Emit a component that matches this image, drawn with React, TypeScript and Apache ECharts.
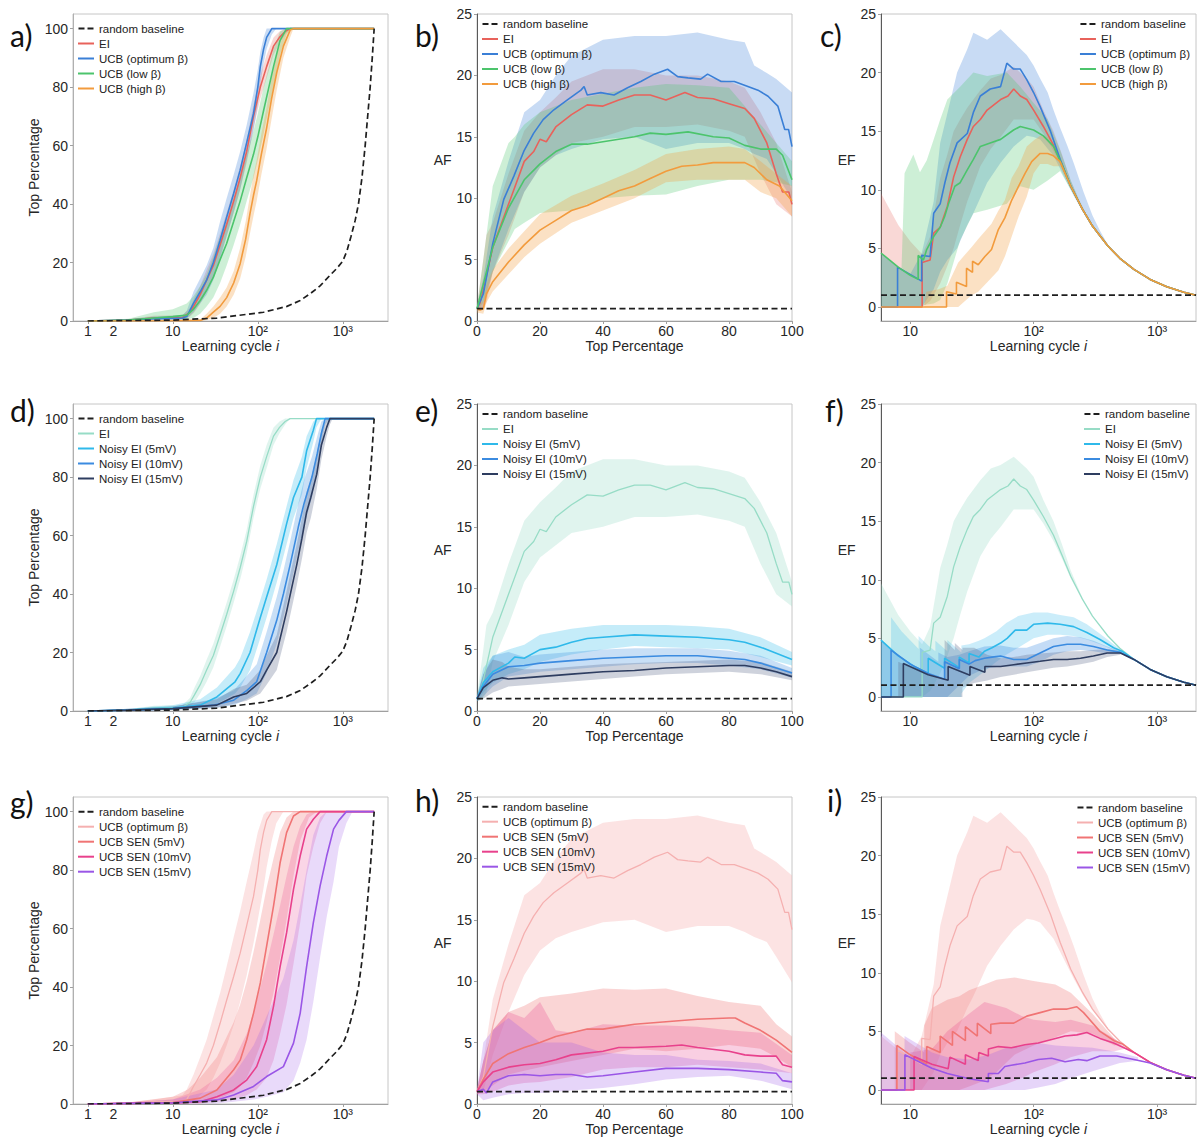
import React, { useEffect, useRef } from "react";
import * as echarts from "echarts";

// ---------------- tick labels ----------------
const extraCycleTick = 2; // the "2" label under the log axes of panels a, d, g
const sup: Record<number, string> = { 2: "\u00b2", 3: "\u00b3" };

// ---------------- baselines ----------------
const topBaseline = [[1, 0], [10, 0.3], [33, 1], [117, 3], [220, 5], [315, 7], [420, 9.5], [540, 12], [700, 15.5], [850, 18], [1000, 20.5], [1120, 24], [1250, 29], [1400, 34.5], [1528, 40], [1680, 49], [1832, 60], [1960, 70], [2098, 80], [2220, 90], [2337, 100]];
const afBaseline = [[0, 1], [100, 1]];
const efBaseline = [[5.8, 1], [2070, 1]];

// ---------------- row 1 : a (top % vs cycle) ----------------
const aEI = [[1, 0], [3, 0.3], [6, 1], [13, 1.2], [16, 3], [18, 5.5], [21, 9], [25, 14], [30, 19], [36, 26], [43, 33], [52, 41], [62, 49], [74, 58], [89, 70], [107, 80], [127, 87], [153, 94], [180, 97], [210, 99], [240, 100], [2337, 100]];
const aEIBand = [[1, 0, 0], [3, 0, 0.6], [6, 0.4, 1.8], [13, 0.6, 2], [16, 1.5, 4.5], [18, 3, 8], [21, 6, 12], [25, 10, 17.5], [30, 15, 23], [36, 22, 30], [43, 29, 37], [52, 37, 45], [62, 45, 53], [74, 54, 62], [89, 66, 74], [107, 76, 84], [127, 83, 91], [153, 91, 97], [180, 95, 99], [210, 98, 100], [240, 100, 100], [2337, 100, 100]];
const aUCB = [[1, 0], [3, 0.3], [6, 0.8], [13, 1], [14.6, 1.5], [17.5, 6], [21, 10], [25, 14], [30, 20], [36, 27.6], [43, 35.5], [52, 43.6], [62, 51.6], [74, 61], [89, 71], [100, 80], [107, 87], [117, 93], [127, 97], [146, 100], [2337, 100]];
const aUCBBand = [[1, 0, 0], [3, 0, 0.6], [6, 0.3, 1.5], [13, 0.5, 2], [14.6, 0.8, 3.5], [17.5, 3, 10], [21, 6, 14.5], [25, 9, 19], [30, 14, 25], [36, 21, 34], [43, 29, 42], [52, 37, 50], [62, 45, 58], [74, 55, 67], [89, 65, 78], [100, 74, 86], [107, 81, 92], [117, 88, 97], [127, 93, 100], [146, 98, 100], [165, 100, 100], [2337, 100, 100]];
const aLow = [[1, 0], [3, 0.3], [6, 1], [10, 1.5], [14.6, 2], [17.5, 4], [21, 7], [25, 10.5], [30, 15], [36, 21], [43, 26.5], [52, 34], [62, 41], [74, 49], [89, 57], [100, 63], [117, 72], [135, 80], [153, 87], [183, 96], [218, 100], [2337, 100]];
const aLowBand = [[1, 0, 0], [3, 0, 0.8], [6, 0.3, 3], [10, 0.5, 4], [14.6, 0.5, 6], [17.5, 1, 8.5], [21, 2.5, 12], [25, 5, 16], [30, 8, 22], [36, 13, 29], [43, 19, 34], [52, 26, 42], [62, 33, 49], [74, 41, 57], [89, 49, 65], [100, 55, 71], [117, 64, 80], [135, 73, 87], [153, 80, 93], [183, 91, 99], [218, 98, 100], [250, 100, 100], [2337, 100, 100]];
const aHigh = [[1, 0], [10, 0.1], [21, 0.2], [25, 1], [30, 3], [36, 5], [43, 8], [52, 13], [62, 19.6], [72, 28], [81, 36.8], [89, 43], [97, 48], [110, 57], [127, 66], [145, 76], [167, 85], [200, 94], [240, 99.5], [263, 100], [2337, 100]];
const aHighBand = [[1, 0, 0], [21, 0, 0.5], [25, 0.3, 2.5], [30, 1, 5], [36, 2.5, 8], [43, 5, 11.5], [52, 9, 17], [62, 14.5, 25], [72, 22, 34], [81, 30, 43], [89, 36, 50], [97, 41, 55], [110, 50, 64], [127, 59, 73], [145, 69, 83], [167, 79, 91], [200, 90, 98], [240, 97, 100], [263, 100, 100], [2337, 100, 100]];

// ---------------- row 1 : b (AF vs top %) ----------------
const bEI = [[0, 1], [1, 1.5], [2, 2.5], [5, 6], [10, 9.5], [15, 13], [18, 13.8], [20, 14.8], [22, 14.6], [25, 15.8], [30, 16.8], [35, 17.6], [40, 17.5], [45, 18], [50, 18.4], [55, 18.4], [60, 18], [66, 18.6], [70, 18.2], [75, 18.1], [80, 17.7], [85, 17.3], [88, 16.5], [92, 14.5], [95, 12], [97, 10.5], [99, 10.5], [100, 9.5]];
const bEIBand = [[0, 0.8, 1.2], [2, 1, 5], [3, 1.5, 7], [5, 4, 8], [10, 7, 12], [15, 10.5, 15.5], [20, 12.5, 17], [25, 13.5, 18.2], [30, 14.5, 19.5], [40, 15, 20.5], [50, 15.8, 20.5], [60, 15.8, 20], [70, 16, 20], [80, 15.5, 19.5], [85, 15, 19], [90, 12, 17], [95, 9.5, 14.5], [100, 8.5, 10.5]];
const bUCB = [[0, 1], [2, 2.2], [5, 6.3], [8.5, 9.9], [11.7, 11.8], [15, 13.9], [18, 15.3], [21, 16.4], [24.4, 17.2], [28.7, 18], [33, 18.8], [34, 19.1], [35, 18.4], [39.3, 18.6], [43.5, 18.4], [47.8, 19], [52, 19.5], [56.3, 20.1], [60.5, 20.5], [63.7, 19.9], [67, 19.8], [71, 19.7], [73.2, 20.1], [77.5, 19.5], [81.7, 19.5], [86, 19.1], [89.2, 18.8], [92.4, 18.3], [95.5, 17.5], [97.7, 15.6], [98.9, 15.6], [100, 14.2]];
const bUCBBand = [[0, 0.8, 1.2], [2, 1, 3.5], [5, 4, 8.5], [10, 7.5, 13], [15, 10.5, 17], [20, 12.5, 18], [25, 13.5, 20], [30, 14, 21.6], [40, 14.8, 22.9], [50, 15, 23.2], [60, 14, 23.2], [70, 14.5, 23.5], [80, 14.5, 22.9], [85, 14, 22.7], [88, 13.6, 20.8], [92, 13.2, 20.2], [95, 12, 19.7], [100, 9.9, 18.6]];
const bLow = [[0, 1], [2, 3], [5, 6], [10, 9.2], [15, 11.5], [20, 12.8], [25, 13.8], [30, 14.4], [35, 14.4], [40, 14.6], [50, 15], [55, 15.3], [60, 15.2], [67, 15.4], [75, 15], [80, 14.9], [85, 14.3], [90, 14], [95, 14], [97, 13.5], [100, 11.5]];
const bLowBand = [[0, 0.8, 1.2], [2, 1.5, 5], [5, 4, 11], [10, 6.5, 14.5], [12, 7.5, 15], [15, 8, 16], [20, 8.8, 17], [30, 9, 18], [40, 10, 18.5], [50, 10.2, 19], [60, 10.3, 19.3], [70, 11, 19.2], [80, 11.5, 19], [90, 11.5, 16], [95, 11.3, 14.5], [100, 11, 13]];
const bHigh = [[0, 1], [1, 0.9], [2, 1], [3, 2.2], [5, 3.2], [10, 4.8], [15, 6.2], [20, 7.4], [25, 8.2], [30, 9], [35, 9.4], [40, 10], [45, 10.6], [50, 11], [55, 11.6], [60, 12.2], [65, 12.6], [70, 12.7], [75, 12.9], [80, 12.9], [85, 12.9], [88, 12.5], [92, 11.5], [96, 11], [100, 9.8]];
const bHighBand = [[0, 0.7, 1.3], [2, 0.6, 1.6], [3, 1.5, 3], [5, 2.4, 4.2], [10, 3.8, 5.9], [15, 5.2, 7.3], [20, 6.3, 8.7], [30, 8, 10.2], [40, 9, 11.2], [50, 10, 12.3], [60, 11.3, 13.6], [70, 11.5, 14], [80, 11.5, 14.2], [85, 11.5, 14], [90, 10.5, 13], [95, 10, 12], [100, 8.5, 11]];

// ---------------- row 1 : c (EF vs cycle) ----------------
const cEI = [[5.8, 0], [12.5, 0], [12.5, 3.8], [14.5, 4], [15.5, 6.3], [17.5, 6.8], [20, 8.6], [22.5, 11.1], [25.4, 12.8], [29, 14.3], [32.5, 15.4], [37, 16], [42, 16.8], [54, 17.7], [62, 18], [69, 18.6], [78, 18], [88, 17.7], [100, 16.8], [120, 15.4], [145, 13.8], [170, 12.1], [200, 10.3], [250, 8.3], [300, 6.9], [400, 5.2], [500, 4.15], [650, 3.2], [880, 2.35], [1200, 1.72], [1650, 1.26], [2070, 1.0]];
const cEIBand = [[5.8, 0, 9.7], [8, 0, 7], [10, 0, 5.6], [12.5, 0, 4.5], [14.5, 0.5, 6], [17.5, 2, 11], [20, 3.5, 13], [22.5, 5, 15], [25.4, 7, 16], [29, 9, 17], [37, 12, 18.5], [45, 13.5, 19.5], [54, 14.5, 19.8], [69, 16, 20.5], [88, 16, 19.5], [100, 16, 18.8], [120, 14.8, 16.8], [145, 13.3, 15], [170, 11.8, 13], [200, 10.1, 10.8], [250, 8.2, 8.4]];
const cUCB = [[5.8, 0], [7.9, 0], [7.9, 3.4], [12.4, 2.2], [12.4, 4.4], [14.5, 4.3], [15.5, 8], [17.5, 8.8], [19.1, 10.6], [21, 12.3], [24, 14], [29, 14.8], [32.5, 16.6], [37, 18], [44.5, 18.6], [54, 18.8], [60.7, 20.8], [68.8, 20.3], [78, 20.3], [88, 19.4], [100, 18.3], [113, 17.1], [137, 15], [164, 12.6], [200, 10.3], [250, 8.3], [300, 6.9], [400, 5.2], [500, 4.15], [650, 3.2], [880, 2.35], [1200, 1.72], [1650, 1.26], [2070, 1.0]];
const cUCBBand = [[5.8, 0, 4.6], [8, 0, 3.4], [10, 0, 2.8], [12.4, 0, 4.6], [15.5, 1.5, 9], [17.5, 3, 14], [20, 4, 16.5], [24, 5, 20], [29, 7, 22], [32.5, 8, 23.4], [42, 10.6, 22.8], [54, 12.3, 23.7], [69, 13.7, 22.6], [88, 14.6, 21.5], [100, 14.5, 20.6], [113, 14.3, 19.5], [130, 13.5, 18.3], [145, 12.9, 16.8], [164, 11.8, 15.3], [187, 10.6, 13.8], [211, 9.5, 12.3], [254, 8, 9.8], [300, 6.8, 7.8], [345, 6, 6.5], [400, 5.2, 5.3]];
const cLow = [[5.8, 4.6], [8, 3.4], [10, 2.7], [11.6, 2.35], [11.6, 4.4], [12.8, 4.0], [13.6, 4.9], [15.5, 6.0], [17.5, 6.8], [19, 7.7], [20.5, 8.85], [23, 10.3], [25.4, 10.6], [29, 11.7], [32.5, 12.6], [37, 13.7], [44.5, 14], [54, 14.3], [68.8, 15.1], [78, 15.4], [100, 15.1], [120, 14.6], [145, 13.7], [170, 12.1], [200, 10.3], [250, 8.3], [300, 6.9], [400, 5.2], [500, 4.15], [650, 3.2], [880, 2.35], [1200, 1.72], [1650, 1.26], [2070, 1.0]];
const cLowBand = [[5.8, 0, 4.6], [8.5, 0, 3.2], [9, 0, 11.4], [10.6, 0, 13], [12, 0, 11.5], [13.6, 0.2, 12.5], [15.5, 0.3, 14.3], [17.5, 0.6, 16], [20, 2, 17.7], [25.4, 5.7, 18.8], [32.5, 8, 20], [42, 8.3, 19.7], [60.7, 8.8, 20], [78, 10.3, 18.8], [100, 10, 17.4], [130, 10.8, 16], [164, 11.6, 13.4], [200, 10, 10.8], [250, 8.2, 8.4]];
const cHigh = [[5.8, 0], [19.7, 0], [19.7, 1.3], [23.7, 1.1], [23.7, 2.1], [28.6, 1.75], [28.6, 3.3], [32, 2.95], [32, 3.9], [35.6, 3.6], [40.3, 4.3], [45.6, 4.9], [51.8, 6.6], [58.5, 7.6], [66.4, 9.1], [75.5, 10.3], [85.3, 11.4], [96.5, 12.4], [113, 13.1], [130, 13.1], [145, 12.9], [164, 12.4], [187, 11.0], [200, 10.3], [250, 8.3], [300, 6.9], [400, 5.2], [500, 4.15], [650, 3.2], [880, 2.35], [1200, 1.72], [1650, 1.26], [2070, 1.0]];
const cHighBand = [[5.8, 0, 0], [13, 0, 0], [13.5, 0, 1.3], [17, 0, 1.5], [20, 0, 1.8], [24.5, 0, 3.8], [31.4, 1, 5.1], [35.6, 1.3, 5.8], [45.6, 2.5, 7.1], [51.8, 3.1, 8.2], [58.5, 4.3, 9.1], [66.4, 6, 11], [75.5, 7.7, 12], [88, 9.4, 13.7], [100, 11.4, 14.2], [113, 12.2, 14.6], [130, 12.2, 14.5], [145, 12, 13.8], [164, 12, 12.8], [187, 10.8, 11.3], [200, 10.1, 10.5], [250, 8.2, 8.4]];

// ---------------- row 2 : d ----------------
const d5 = [[1, 0], [3, 0.3], [6, 0.8], [10, 1], [21, 2], [33, 4.8], [54, 10], [62, 12.8], [81, 20], [107, 32], [127, 39], [167, 50], [218, 64], [263, 73], [330, 80], [375, 89], [450, 96], [490, 100], [2337, 100]];
const d5Band = [[1, 0, 0], [3, 0, 0.8], [6, 0.3, 1.5], [10, 0.5, 2], [21, 1, 4], [33, 2.5, 8], [54, 6, 15], [62, 8, 18], [81, 14, 27], [107, 25, 38], [127, 32, 45], [167, 44, 57], [218, 57, 70], [263, 66, 79], [330, 74, 87], [375, 83, 94], [450, 92, 99], [490, 97, 100], [560, 100, 100], [2337, 100, 100]];
const d10 = [[1, 0], [3, 0.3], [10, 0.8], [30, 2], [52, 3.7], [74, 7], [97, 10], [127, 20], [167, 31], [200, 40], [240, 50], [300, 63], [350, 71], [433, 80], [500, 88], [560, 95], [620, 100], [2337, 100]];
const d10Band = [[1, 0, 0], [3, 0, 0.8], [10, 0.4, 1.5], [30, 1, 4], [52, 2, 7], [74, 4, 12], [97, 6, 16], [127, 13, 27], [167, 23, 39], [200, 32, 48], [240, 42, 58], [300, 55, 71], [350, 63, 79], [433, 73, 87], [500, 82, 94], [560, 91, 99], [620, 98, 100], [700, 100, 100], [2337, 100, 100]];
const d15 = [[1, 0], [3, 0.3], [10, 0.8], [33, 2], [52, 4.8], [74, 6], [107, 10], [127, 14], [167, 20], [218, 34], [250, 42], [287, 50], [330, 59], [375, 68], [420, 73], [494, 81], [560, 91], [646, 97], [705, 100], [2337, 100]];
const d15Band = [[1, 0, 0], [3, 0, 0.8], [10, 0.4, 1.5], [33, 1, 4], [52, 2.5, 7.5], [74, 3.5, 9], [107, 6, 14], [127, 9, 19], [167, 14, 26], [218, 27, 41], [250, 35, 49], [287, 43, 57], [330, 52, 66], [375, 61, 75], [420, 66, 79], [494, 76, 88], [560, 86, 96], [646, 94, 100], [705, 98, 100], [760, 100, 100], [2337, 100, 100]];

// ---------------- row 2 : e ----------------
const e5 = [[0, 1], [2, 2.3], [5, 3.2], [10, 3.9], [12, 4.4], [15, 4.3], [20, 5], [25, 5.2], [30, 5.6], [35, 5.9], [40, 6], [50, 6.2], [60, 6.1], [70, 6], [80, 5.8], [85, 5.6], [90, 5.2], [95, 4.7], [100, 4.2]];
const e5Band = [[0, 0.8, 1.2], [2, 1.5, 3.5], [5, 2.3, 4.5], [10, 3, 5], [15, 3.4, 5.4], [20, 4, 6.2], [30, 4.6, 6.7], [40, 5, 7], [50, 5.3, 7], [60, 5.2, 7], [70, 5.1, 6.9], [80, 5, 6.7], [90, 4.4, 6], [100, 3.7, 4.8]];
const e10 = [[0, 1], [2, 2], [5, 3], [10, 3.6], [15, 3.7], [20, 3.9], [30, 4.1], [40, 4.3], [50, 4.4], [60, 4.5], [70, 4.5], [80, 4.3], [85, 4.2], [90, 3.9], [95, 3.5], [100, 3.1]];
const e10Band = [[0, 0.8, 1.2], [2, 1.2, 3], [5, 2, 4.5], [10, 2.8, 4.8], [15, 3, 4.4], [20, 3.2, 4.6], [30, 3.4, 4.8], [40, 3.6, 5], [50, 3.8, 5.1], [60, 3.9, 5.1], [70, 3.9, 5.1], [80, 3.7, 4.9], [90, 3.4, 4.5], [100, 2.7, 3.5]];
const e15 = [[0, 1], [2, 1.9], [5, 2.5], [8, 2.7], [10, 2.6], [15, 2.7], [20, 2.8], [30, 3], [40, 3.2], [50, 3.3], [60, 3.5], [70, 3.6], [80, 3.7], [85, 3.7], [90, 3.5], [95, 3.2], [100, 2.8]];
const e15Band = [[0, 0.8, 1.2], [2, 1, 3], [5, 1.5, 4.2], [8, 1.8, 4], [10, 2, 3.6], [15, 2.1, 3.4], [20, 2.2, 3.4], [30, 2.4, 3.6], [40, 2.6, 3.8], [50, 2.8, 3.9], [60, 3, 4], [70, 3.1, 4.1], [80, 3.2, 4.2], [90, 3, 4], [100, 2.5, 3.2]];

// ---------------- row 2 : f ----------------
const f5 = [[5.8, 4.85], [8, 3.5], [11, 2.55], [14, 2.0], [14, 3.3], [19, 2.45], [19, 3.3], [25, 2.5], [25, 3.4], [30, 2.9], [30, 3.7], [36, 3.4], [40, 3.9], [46, 4.2], [54, 4.6], [61, 5.0], [71, 5.7], [88, 5.7], [100, 6.2], [130, 6.3], [164, 6.2], [211, 6.0], [270, 5.5], [345, 4.9], [445, 4.2], [520, 3.9], [650, 3.2], [880, 2.35], [1200, 1.72], [1650, 1.26], [2070, 1.0]];
const f5Band = [[5.8, 0, 4.85], [7, 0, 4.0], [7, 0, 6.8], [8.5, 0, 5.6], [11.7, 0, 4.1], [11.7, 0, 5.2], [14, 0, 4.4], [16, 0, 3.9], [16, 0, 4.8], [20, 0, 3.9], [20, 0, 4.85], [26, 0, 3.8], [26, 0.3, 4.4], [30, 1.2, 4.5], [36, 1.8, 4.8], [40, 2.2, 5.0], [50, 3, 5.6], [60, 3.6, 6.3], [75, 4.2, 6.9], [100, 5, 7.2], [130, 5.3, 7.2], [164, 5.3, 7], [211, 5.2, 6.8], [270, 4.9, 6.2], [345, 4.5, 5.4], [445, 4, 4.5], [520, 3.8, 4]];
const f10 = [[5.8, 0], [7, 0], [7, 4.0], [10, 2.8], [14, 2.0], [19, 1.5], [19, 3.0], [25, 2.4], [25, 3.2], [30, 2.8], [33.6, 3.1], [40, 3.3], [46, 3.4], [54, 3.5], [69, 3.2], [88, 3.2], [113, 3.75], [145, 4.3], [187, 4.5], [240, 4.5], [305, 4.3], [395, 4.0], [505, 3.8], [650, 3.2], [880, 2.35], [1200, 1.72], [1650, 1.26], [2070, 1.0]];
const f10Band = [[5.8, 0, 4.85], [8, 0, 3.5], [10, 0, 2.8], [12, 0, 2.35], [12, 0, 4.2], [16.9, 0, 3.0], [16.9, 0, 3.8], [20, 0, 3.4], [25, 1, 3.6], [30, 1.8, 3.9], [40, 2.4, 4.3], [54, 2.6, 4.4], [69, 2.6, 4.2], [88, 2.6, 4.2], [113, 3, 4.6], [145, 3.6, 5], [187, 3.9, 5.2], [240, 4, 5.1], [305, 3.9, 4.8], [395, 3.7, 4.3], [505, 3.7, 3.9]];
const f15 = [[5.8, 0], [8.8, 0], [8.8, 2.86], [14, 1.9], [20.3, 1.43], [20.3, 2.6], [30.5, 1.86], [30.5, 2.6], [40.3, 2.1], [40.3, 2.6], [54, 2.6], [69, 2.75], [88, 2.9], [113, 3.05], [145, 3.2], [187, 3.2], [240, 3.3], [305, 3.5], [395, 3.75], [505, 3.75], [650, 3.2], [880, 2.35], [1200, 1.72], [1650, 1.26], [2070, 1.0]];
const f15Band = [[5.8, 0, 0], [8, 0, 0], [8, 0, 3.0], [14, 0, 1.9], [19, 0, 1.45], [19, 0, 4.85], [23, 0, 4.0], [23, 0, 4.6], [26.5, 0, 4.0], [26.5, 0.8, 4.2], [33, 1.2, 4.2], [42, 1.4, 3.6], [54, 1.7, 3.3], [69, 1.9, 3.4], [88, 2.1, 3.6], [113, 2.3, 3.7], [145, 2.5, 3.8], [187, 2.6, 3.9], [240, 2.8, 3.9], [305, 3, 4], [395, 3.4, 4.1], [505, 3.6, 3.9]];

// ---------------- row 3 : g ----------------
const gUCBBand = [[1, 0, 0], [3, 0, 0.6], [6, 0.3, 1.5], [13, 0.5, 3], [14.6, 0.5, 5], [17.5, 1, 10], [21, 3, 16], [25, 5, 22], [30, 9, 30], [36, 14, 38], [43, 20, 47], [52, 27, 57], [62, 35, 66], [74, 44, 76], [89, 55, 86], [100, 63, 93], [117, 74, 99], [127, 81, 100], [146, 90, 100], [165, 96, 100], [200, 100, 100], [2337, 100, 100]];
const g5 = [[1, 0], [3, 0.2], [10, 0.5], [21, 2], [33, 4.8], [52, 11.7], [62, 15], [74, 22], [89, 31], [107, 41.4], [127, 54], [153, 67.7], [183, 82.5], [218, 92.8], [263, 98.5], [315, 100], [2337, 100]];
const g5Band = [[1, 0, 0], [3, 0, 0.5], [10, 0, 2.5], [15, 0.3, 5], [21, 0.5, 9], [33, 1.5, 16], [52, 4, 28], [62, 6, 34], [74, 9, 42], [89, 14, 52], [107, 20, 63], [127, 28, 74], [153, 38, 84], [183, 50, 93], [218, 63, 98], [263, 78, 100], [315, 90, 100], [400, 98, 100], [500, 100, 100], [2337, 100, 100]];
const g10 = [[1, 0], [3, 0.2], [10, 0.4], [21, 0.8], [33, 2.5], [52, 4.8], [74, 8.2], [97, 12.8], [127, 22], [153, 33.4], [183, 47], [218, 58.5], [263, 73.4], [315, 84.8], [375, 94], [450, 97.4], [540, 100], [2337, 100]];
const g10Band = [[1, 0, 0], [3, 0, 0.5], [10, 0, 1.5], [21, 0.2, 5], [33, 0.8, 9], [52, 1.5, 15], [74, 3, 24], [97, 5, 35], [127, 9, 48], [153, 15, 58], [183, 24, 68], [218, 34, 78], [263, 48, 88], [315, 62, 95], [375, 78, 99], [450, 88, 100], [540, 96, 100], [650, 100, 100], [2337, 100, 100]];
const g15 = [[1, 0], [3, 0.2], [10, 0.4], [33, 1.4], [52, 3.1], [89, 6], [127, 9.4], [200, 12.8], [263, 20.8], [315, 31], [375, 47], [450, 62], [540, 74.5], [646, 84.8], [778, 94], [900, 97], [1100, 100], [2337, 100]];
const g15Band = [[1, 0, 0], [3, 0, 0.5], [10, 0, 1.5], [33, 0.2, 5], [52, 0.8, 10], [89, 1.5, 20], [127, 2.5, 30], [200, 4, 43], [263, 8, 56], [315, 14, 68], [375, 22, 80], [450, 35, 92], [540, 50, 98], [646, 64, 100], [778, 76, 100], [900, 88, 100], [1100, 96, 100], [1300, 100, 100], [2337, 100, 100]];

// ---------------- row 3 : h ----------------
const h5 = [[0, 1], [2, 2], [5, 3.3], [10, 4.1], [15, 4.6], [20, 5], [25, 5.5], [30, 5.8], [35, 6.1], [40, 6.1], [45, 6.3], [50, 6.5], [55, 6.6], [60, 6.7], [70, 6.9], [80, 7], [82, 7], [85, 6.6], [90, 6], [95, 5.2], [100, 4.2]];
const h5Band = [[0, 0.8, 1.2], [2, 1, 3.5], [5, 1.5, 6], [10, 2.4, 7.5], [15, 2.7, 8], [20, 3, 8.7], [30, 3.5, 9], [40, 4, 9.4], [50, 4.5, 9.3], [60, 4.3, 9.4], [70, 4.5, 8.8], [80, 4.8, 8.3], [90, 4.5, 8], [95, 3.8, 6.5], [100, 3, 5.5]];
const h10 = [[0, 1], [2, 1.8], [5, 2.6], [10, 3], [15, 3.2], [20, 3.3], [25, 3.6], [30, 4], [40, 4.3], [45, 4.6], [50, 4.6], [60, 4.7], [65, 4.8], [70, 4.6], [80, 4.3], [85, 4], [90, 3.9], [95, 3.9], [97, 3.2], [100, 3]];
const h10Band = [[0, 0.8, 1.2], [2, 0.8, 3.5], [5, 1, 6], [10, 1.5, 7.5], [15, 1.7, 7], [20, 1.8, 8.3], [25, 2, 6], [30, 2.2, 5.8], [40, 2.8, 6.5], [50, 3, 6.4], [60, 3, 6.4], [70, 3.2, 6.3], [80, 3, 6], [90, 2.8, 5.8], [100, 2.5, 4]];
const h15 = [[0, 1], [2, 1.2], [3, 0.9], [5, 1.8], [10, 2.3], [15, 2.4], [20, 2.3], [25, 2.4], [30, 2.4], [35, 2.2], [40, 2.3], [50, 2.6], [60, 2.9], [70, 2.9], [80, 2.8], [90, 2.6], [95, 2.5], [97, 1.9], [100, 1.8]];
const h15Band = [[0, 0.8, 1.2], [2, 0.3, 5], [5, 0.5, 6], [10, 0.8, 7], [15, 0.9, 6], [20, 0.9, 5], [30, 1.1, 5], [40, 1.3, 4.2], [50, 1.6, 4], [60, 2, 4], [70, 2.2, 3.6], [80, 2.3, 3.5], [90, 1.9, 3.3], [100, 1.2, 2.5]];

// ---------------- row 3 : i ----------------
const i5 = [[5.8, 0], [7.8, 0], [7.8, 3.8], [10, 3.0], [13.6, 2.2], [13.6, 3.7], [17.5, 3.2], [17.5, 4.6], [22, 3.8], [22, 5.0], [28, 4.2], [28, 5.4], [35, 4.6], [35, 5.7], [45, 4.8], [45, 5.6], [54, 5.7], [69, 5.7], [88, 6.3], [113, 6.6], [145, 6.9], [187, 6.9], [224, 7.1], [254, 6.6], [345, 5.0], [450, 4.2], [520, 3.95], [650, 3.2], [880, 2.35], [1200, 1.72], [1650, 1.26], [2070, 1.0]];
const i5Band = [[5.8, 0, 0], [7.5, 0, 0], [7.5, 0, 5], [10, 0, 4], [13, 0, 3.2], [13, 0, 5.5], [15, 0, 7], [20, 0, 7.7], [25, 0, 8], [30, 0.3, 8.5], [40, 0.8, 9], [50, 1.5, 9.4], [70, 3, 9.6], [100, 3.8, 9.3], [150, 4.5, 9], [200, 5, 8.3], [300, 4.8, 6.5], [450, 3.8, 4.4], [520, 3.9, 3.95]];
const i10 = [[5.8, 0], [10.75, 0], [10.75, 2.85], [15, 2.2], [20.3, 1.8], [21, 2.8], [28, 2.2], [28, 3.0], [35.6, 2.5], [36, 3.2], [43, 2.9], [43, 3.5], [51.8, 3.7], [66, 3.6], [85, 3.85], [109, 4.0], [140, 4.3], [180, 4.6], [224, 4.7], [270, 4.9], [345, 4.4], [445, 4.0], [540, 3.6], [650, 3.2], [880, 2.35], [1200, 1.72], [1650, 1.26], [2070, 1.0]];
const i10Band = [[5.8, 0, 0], [10, 0, 0], [10, 0, 3.2], [15, 0, 3.5], [20, 0, 5], [30, 0, 6.5], [40, 0, 7.5], [60, 0.5, 7], [80, 1, 6.3], [100, 1.5, 6], [150, 2.2, 5.8], [200, 2.8, 6], [300, 3.3, 5.5], [450, 3.3, 4.4], [540, 3.5, 3.7]];
const i15 = [[5.8, 0], [9.06, 0], [9.06, 3.0], [15, 1.85], [20, 1.4], [30, 0.95], [43, 0.7], [43, 1.4], [51.8, 1.4], [58.5, 2.0], [66, 2.1], [85, 2.3], [109, 2.6], [140, 2.7], [180, 2.4], [230, 2.6], [270, 2.5], [345, 2.9], [472, 2.9], [650, 2.6], [880, 2.3], [1200, 1.72], [1650, 1.26], [2070, 1.0]];
const i15Band = [[5.8, 0, 4.9], [9, 0, 3.2], [9, 0, 4.6], [15, 0, 3.2], [20, 0, 2.8], [30, 0, 2.6], [43, 0, 3], [60, 0, 3.6], [85, 0, 3.8], [109, 0.2, 4], [150, 0.5, 3.8], [200, 1, 3.7], [300, 1.6, 3.6], [500, 2.3, 3.2], [700, 2.5, 2.8]];

// ---------------- styling ----------------
const FONT = "'Liberation Sans', Arial, sans-serif";
const TXT = "#262626";
const COLS = [73, 477, 881];
const ROWS = [14, 404, 797];
const GW = 315;
const GH = 307;

const C = {
  red: "#e8625b", blue: "#3a7fd6", green: "#4cc46c", orange: "#f29b3d",
  teal: "#97dcc6", cyan: "#2fb9ea", mblue: "#3b8be0", navy: "#2e3d60",
  pink: "#f5b0b0", salmon: "#f07474", magenta: "#e8418c", purple: "#9a56e6",
};

function rgba(hex: string, a: number) {
  const n = parseInt(hex.slice(1), 16);
  return `rgba(${(n >> 16) & 255},${(n >> 8) & 255},${n & 255},${a})`;
}

type Curve = { label: string; line: number[][]; band: number[][]; color: string; bandColor: string; op: number; width?: number };
type Panel = { id: string; kind: "top" | "af" | "ef"; curves: Curve[] };

const panels: Panel[] = [
  { id: "a", kind: "top", curves: [
    { label: "EI", line: aEI, band: aEIBand, color: C.red, bandColor: C.red, op: 0.25 },
    { label: "UCB (optimum \u03b2)", line: aUCB, band: aUCBBand, color: C.blue, bandColor: C.blue, op: 0.28 },
    { label: "UCB (low \u03b2)", line: aLow, band: aLowBand, color: C.green, bandColor: C.green, op: 0.28 },
    { label: "UCB (high \u03b2)", line: aHigh, band: aHighBand, color: C.orange, bandColor: C.orange, op: 0.3 } ] },
  { id: "b", kind: "af", curves: [
    { label: "EI", line: bEI, band: bEIBand, color: C.red, bandColor: C.red, op: 0.25 },
    { label: "UCB (optimum \u03b2)", line: bUCB, band: bUCBBand, color: C.blue, bandColor: C.blue, op: 0.28 },
    { label: "UCB (low \u03b2)", line: bLow, band: bLowBand, color: C.green, bandColor: C.green, op: 0.28 },
    { label: "UCB (high \u03b2)", line: bHigh, band: bHighBand, color: C.orange, bandColor: C.orange, op: 0.3 } ] },
  { id: "c", kind: "ef", curves: [
    { label: "EI", line: cEI, band: cEIBand, color: C.red, bandColor: C.red, op: 0.25 },
    { label: "UCB (optimum \u03b2)", line: cUCB, band: cUCBBand, color: C.blue, bandColor: C.blue, op: 0.28 },
    { label: "UCB (low \u03b2)", line: cLow, band: cLowBand, color: C.green, bandColor: C.green, op: 0.28 },
    { label: "UCB (high \u03b2)", line: cHigh, band: cHighBand, color: C.orange, bandColor: C.orange, op: 0.3 } ] },
  { id: "d", kind: "top", curves: [
    { label: "EI", line: aEI, band: aEIBand, color: C.teal, bandColor: C.teal, op: 0.3, width: 1.3 },
    { label: "Noisy EI (5mV)", line: d5, band: d5Band, color: C.cyan, bandColor: C.cyan, op: 0.28 },
    { label: "Noisy EI (10mV)", line: d10, band: d10Band, color: C.mblue, bandColor: C.mblue, op: 0.28 },
    { label: "Noisy EI (15mV)", line: d15, band: d15Band, color: C.navy, bandColor: "#5d6a8c", op: 0.3 } ] },
  { id: "e", kind: "af", curves: [
    { label: "EI", line: bEI, band: bEIBand, color: C.teal, bandColor: C.teal, op: 0.3, width: 1.3 },
    { label: "Noisy EI (5mV)", line: e5, band: e5Band, color: C.cyan, bandColor: C.cyan, op: 0.28 },
    { label: "Noisy EI (10mV)", line: e10, band: e10Band, color: C.mblue, bandColor: C.mblue, op: 0.28 },
    { label: "Noisy EI (15mV)", line: e15, band: e15Band, color: C.navy, bandColor: "#5d6a8c", op: 0.3 } ] },
  { id: "f", kind: "ef", curves: [
    { label: "EI", line: cEI, band: cEIBand, color: C.teal, bandColor: C.teal, op: 0.3, width: 1.3 },
    { label: "Noisy EI (5mV)", line: f5, band: f5Band, color: C.cyan, bandColor: C.cyan, op: 0.25 },
    { label: "Noisy EI (10mV)", line: f10, band: f10Band, color: C.mblue, bandColor: C.mblue, op: 0.3 },
    { label: "Noisy EI (15mV)", line: f15, band: f15Band, color: C.navy, bandColor: "#5d6a8c", op: 0.3 } ] },
  { id: "g", kind: "top", curves: [
    { label: "UCB (optimum \u03b2)", line: aUCB, band: gUCBBand, color: C.pink, bandColor: C.pink, op: 0.35, width: 1.3 },
    { label: "UCB SEN (5mV)", line: g5, band: g5Band, color: C.salmon, bandColor: C.salmon, op: 0.28 },
    { label: "UCB SEN (10mV)", line: g10, band: g10Band, color: C.magenta, bandColor: C.magenta, op: 0.22 },
    { label: "UCB SEN (15mV)", line: g15, band: g15Band, color: C.purple, bandColor: C.purple, op: 0.22 } ] },
  { id: "h", kind: "af", curves: [
    { label: "UCB (optimum \u03b2)", line: bUCB, band: bUCBBand, color: C.pink, bandColor: C.pink, op: 0.35, width: 1.3 },
    { label: "UCB SEN (5mV)", line: h5, band: h5Band, color: C.salmon, bandColor: C.salmon, op: 0.3 },
    { label: "UCB SEN (10mV)", line: h10, band: h10Band, color: C.magenta, bandColor: C.magenta, op: 0.25 },
    { label: "UCB SEN (15mV)", line: h15, band: h15Band, color: C.purple, bandColor: C.purple, op: 0.25 } ] },
  { id: "i", kind: "ef", curves: [
    { label: "UCB (optimum \u03b2)", line: cUCB, band: cUCBBand, color: C.pink, bandColor: C.pink, op: 0.35, width: 1.3 },
    { label: "UCB SEN (5mV)", line: i5, band: i5Band, color: C.salmon, bandColor: C.salmon, op: 0.3 },
    { label: "UCB SEN (10mV)", line: i10, band: i10Band, color: C.magenta, bandColor: C.magenta, op: 0.25 },
    { label: "UCB SEN (15mV)", line: i15, band: i15Band, color: C.purple, bandColor: C.purple, op: 0.25 } ] },
];

const legendTops = [[22.5, 18, 18], [412.5, 408, 408], [805.7, 800.7, 801.5]];
const letterPos = [
  [10, 35], [415, 35], [820, 35],
  [10, 410], [415, 410], [825, 410],
  [10, 802], [415, 800], [827, 800],
];
const DASH_ICON = "path://M0,0h6v2h-6z M9,0h6v2h-6z";

function logFmt(v: number) {
  const l = Math.log10(v);
  const e = Math.round(l);
  if (Math.abs(l - e) > 1e-6) return "";
  if (e === 0) return "1";
  if (e === 1) return "10";
  return "10" + (sup[e] || "");
}

function buildOption() {
  const grid: any[] = [];
  const xAxis: any[] = [];
  const yAxis: any[] = [];
  const legend: any[] = [];
  const series: any[] = [];

  const nameStyle = {
    fontSize: 14, color: TXT, fontFamily: FONT,
    rich: { n: { fontSize: 14, color: TXT, fontFamily: FONT }, i: { fontSize: 14, color: TXT, fontFamily: FONT, fontStyle: "italic" } },
  };

  panels.forEach((p, gi) => {
    const col = gi % 3;
    const row = Math.floor(gi / 3);
    grid.push({ left: COLS[col], top: ROWS[row], width: GW, height: GH, show: true, borderColor: "#c6c6c6", borderWidth: 1, backgroundColor: "transparent" });

    const axisLine = { show: true, onZero: false, lineStyle: { color: "#a0a0a0", width: 1 } };
    const axisTick = { show: true, length: 3, lineStyle: { color: "#a0a0a0" } };
    const xLabel: any = { fontSize: 14, color: TXT, fontFamily: FONT, margin: 3 };
    if (p.kind === "af") {
      xAxis.push({ gridIndex: gi, type: "value", min: 0, max: 100, interval: 20, axisLine, axisTick, splitLine: { show: false }, axisLabel: xLabel, name: "Top Percentage", nameLocation: "middle", nameGap: 16, nameTextStyle: nameStyle });
    } else {
      const isTop = p.kind === "top";
      xAxis.push({ gridIndex: gi, type: "log", logBase: 10, min: isTop ? 0.67 : 5.8, max: isTop ? 3400 : 2070, axisLine, axisTick, splitLine: { show: false },
        axisLabel: { ...xLabel, formatter: logFmt, showMinLabel: false, showMaxLabel: false },
        name: "{n|Learning cycle }{i|i}", nameLocation: "middle", nameGap: 17, nameTextStyle: nameStyle });
    }

    const yLabel: any = { fontSize: 14, color: TXT, fontFamily: FONT, margin: 5 };
    const yLine = { show: true, onZero: false, lineStyle: { color: p.kind === "top" ? "#b0b0b0" : "#5a5a5a", width: 1 } };
    if (p.kind === "top") {
      yAxis.push({ gridIndex: gi, type: "value", min: 0, max: 105, interval: 20, axisLine: yLine, axisTick, splitLine: { show: false }, axisLabel: { ...yLabel, showMaxLabel: false },
        name: "Top Percentage", nameLocation: "middle", nameRotate: 90, nameGap: 29, nameTextStyle: nameStyle });
    } else if (p.kind === "af") {
      yAxis.push({ gridIndex: gi, type: "value", min: 0, max: 25, interval: 5, axisLine: yLine, axisTick, splitLine: { show: false }, axisLabel: yLabel,
        name: "AF", nameLocation: "middle", nameRotate: 0, nameGap: 20, nameTextStyle: { ...nameStyle, padding: [0, 0, 15, 0] } });
    } else {
      yAxis.push({ gridIndex: gi, type: "value", min: -1.2, max: 25, splitNumber: 5, axisLine: yLine, axisTick, splitLine: { show: false }, axisLabel: { ...yLabel, showMinLabel: false },
        name: "EF", nameLocation: "middle", nameRotate: 0, nameGap: 21, nameTextStyle: { ...nameStyle, padding: [0, 0, 15, 0] } });
    }

    // confidence bands: one polygon per curve, projected through the axes with api.coord
    p.curves.forEach((c, ci) => {
      const band = c.band;
      const fill = rgba(c.bandColor, c.op);
      series.push({
        type: "custom", name: `${p.id}-band-${ci}`, xAxisIndex: gi, yAxisIndex: gi, silent: true, z: 1,
        data: [[band[0][0], band[0][1]]],
        renderItem: (_params: any, api: any) => {
          const upper = band.map((d) => api.coord([d[0], d[2]]));
          const lower = band.map((d) => api.coord([d[0], d[1]])).reverse();
          return { type: "polygon", shape: { points: upper.concat(lower) }, style: { fill, stroke: "none" } };
        },
      });
    });

    // baseline
    const baseName = `${p.id}:random baseline`;
    const baseData = p.kind === "top" ? topBaseline : p.kind === "af" ? afBaseline : efBaseline;
    series.push({ type: "line", name: baseName, xAxisIndex: gi, yAxisIndex: gi, data: baseData, symbol: "none", showSymbol: false, silent: true, z: 4, emphasis: { disabled: true },
      lineStyle: { color: "#1e1e1e", width: 1.7, type: [6, 3.5] }, itemStyle: { color: "#1e1e1e" } });

    // mean lines
    const names: any[] = [{ name: baseName, icon: DASH_ICON }];
    p.curves.forEach((c) => {
      const nm = `${p.id}:${c.label}`;
      names.push({ name: nm, icon: "rect" });
      series.push({ type: "line", name: nm, xAxisIndex: gi, yAxisIndex: gi, data: c.line, symbol: "none", showSymbol: false, silent: true, z: 3, emphasis: { disabled: true },
        lineStyle: { color: c.color, width: c.width || 1.6 }, itemStyle: { color: c.color } });
    });

    const lg: any = { orient: "vertical", top: legendTops[row][col], itemWidth: 16, itemHeight: 2, itemGap: 3, padding: 0, selectedMode: false,
      textStyle: { fontSize: 11.5, color: "#222", fontFamily: FONT }, data: names, formatter: (n: string) => n.slice(n.indexOf(":") + 1) };
    if (col === 2) lg.right = 8; else lg.left = col === 0 ? 78 : 482;
    legend.push(lg);
  });

  return { animation: false, backgroundColor: "#ffffff", grid, xAxis, yAxis, legend, series };
}

export default function App() {
  const ref = useRef<HTMLDivElement>(null);
  useEffect(() => {
    document.body.style.margin = "0";
    if (!ref.current) return;
    const chart = echarts.init(ref.current, null, { renderer: "svg", width: 1198, height: 1137 });
    chart.setOption(buildOption() as any);

    const letters = ["a)", "b)", "c)", "d)", "e)", "f)", "g)", "h)", "i)"].map((t, k) => ({
      type: "text", id: "letter-" + k, x: letterPos[k][0], y: letterPos[k][1],
      style: { text: t, fontSize: 30, fontFamily: "Lato, 'Open Sans', sans-serif", fill: "#111", align: "left", verticalAlign: "middle" },
    }));
    const twos = [0, 3, 6].map((gi, r) => {
      const px = chart.convertToPixel({ xAxisIndex: gi } as any, extraCycleTick) as unknown as number;
      return { type: "text", id: "two-" + r, x: px, y: ROWS[r] + GH + 3,
        style: { text: String(extraCycleTick), fontSize: 14, fontFamily: FONT, fill: TXT, align: "center", verticalAlign: "top" } };
    });
    chart.setOption({ graphic: { elements: [...letters, ...twos] } } as any);
    return () => chart.dispose();
  }, []);
  return <div ref={ref} style={{ width: 1198, height: 1137 }} />;
}
